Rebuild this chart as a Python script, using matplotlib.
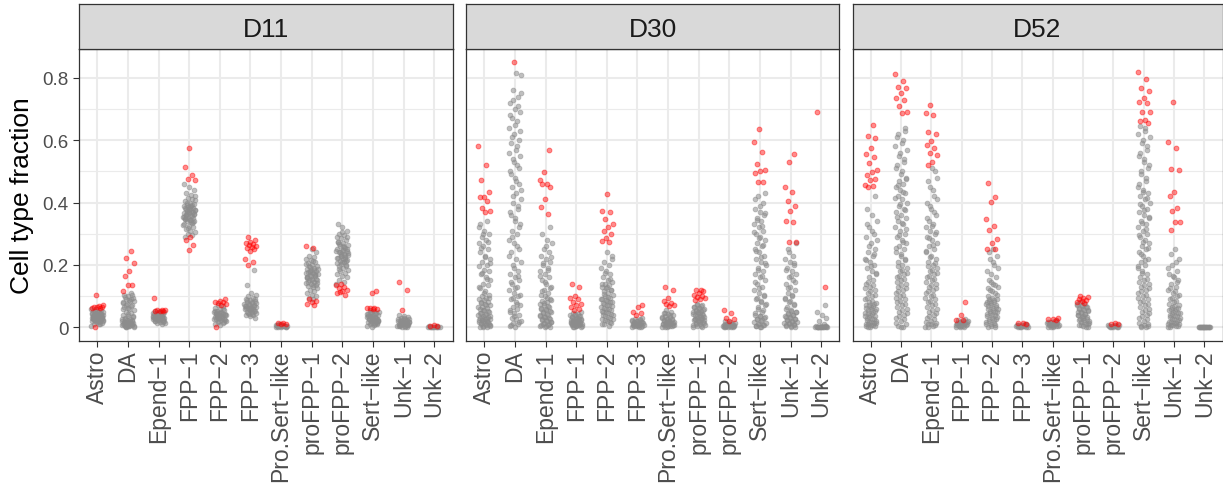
import numpy as np
import matplotlib
matplotlib.use('Agg')
import matplotlib.pyplot as plt

plt.rcParams['font.family'] = ['Liberation Sans', 'DejaVu Sans']

#################### DATA ##############################

categories = ['Astro', 'DA', 'Epend\u22121', 'FPP\u22121', 'FPP\u22122', 'FPP\u22123',
              'Pro.Sert\u2212like', 'proFPP\u22121', 'proFPP\u22122', 'Sert\u2212like',
              'Unk\u22121', 'Unk\u22122']
panels = ['D11', 'D30', 'D52']

# gray points (one list per category)
d11_gray = [
    [0.005,0.01,0.012,0.015,0.017,0.02,0.02,0.022,0.023,0.025,0.025,0.027,0.028,0.03,0.03,0.031,0.032,0.033,0.035,0.035,0.036,0.038,0.04,0.04,0.041,0.042,0.044,0.045,0.046,0.048,0.05,0.052,0.055,0.058,0.06,0.018,0.026,0.034,0.039,0.029,
     0.012,0.019,0.021,0.024,0.031,0.037,0.043,0.047,0.049,0.053,0.027,0.033,0.036,0.041,0.044],
    [0.0,0.002,0.004,0.005,0.006,0.008,0.01,0.01,0.012,0.014,0.015,0.017,0.02,0.022,0.025,0.028,0.03,0.033,0.036,0.04,0.045,0.05,0.055,0.06,0.065,0.07,0.075,0.08,0.085,0.09,0.095,0.1,0.105,0.11,0.003,0.007,0.013,0.018,0.024,0.062,0.078,0.092,
     0.001,0.003,0.005,0.009,0.011,0.016,0.019,0.021,0.027,0.035,0.042,0.058,0.068,0.072,0.083,0.088,0.098,0.102],
    [0.01,0.013,0.015,0.018,0.02,0.022,0.024,0.025,0.027,0.028,0.03,0.031,0.032,0.034,0.035,0.036,0.038,0.04,0.041,0.042,0.044,0.045,0.047,0.048,0.05,0.052,0.016,0.026,0.033,0.039,0.043,
     0.019,0.023,0.029,0.036,0.037,0.046,0.049,0.021,0.031,0.041],
    [0.29,0.295,0.3,0.305,0.31,0.315,0.32,0.325,0.33,0.335,0.34,0.342,0.345,0.348,0.35,0.352,0.355,0.358,0.36,0.362,0.365,0.368,0.37,0.372,0.375,0.378,0.38,0.382,0.385,0.388,0.39,0.393,0.396,0.4,0.405,0.41,0.415,0.42,0.425,0.43,0.44,0.45,0.46,0.357,0.367,0.377,0.387,0.347,0.337,
     0.318,0.328,0.338,0.352,0.362,0.371,0.383,0.391,0.398,0.408,0.343,0.359,0.369,0.379,0.354],
    [0.008,0.012,0.015,0.018,0.02,0.022,0.025,0.027,0.03,0.032,0.034,0.036,0.038,0.04,0.042,0.044,0.046,0.048,0.05,0.053,0.056,0.06,0.063,0.067,0.07,0.024,0.035,0.045,
     0.016,0.021,0.028,0.031,0.037,0.041,0.047,0.052,0.058,0.029,0.039],
    [0.03,0.035,0.038,0.04,0.043,0.045,0.048,0.05,0.052,0.055,0.057,0.06,0.062,0.064,0.066,0.068,0.07,0.072,0.075,0.078,0.08,0.083,0.086,0.09,0.095,0.1,0.105,0.11,0.137,0.185,0.058,0.067,
     0.042,0.047,0.053,0.061,0.063,0.069,0.073,0.077,0.082,0.088,0.092,0.059],
    [0.0,0.001,0.002,0.002,0.003,0.003,0.004,0.004,0.005,0.005,0.006,0.007,0.008,0.01,0.001,0.003,0.006],
    [0.09,0.095,0.1,0.105,0.11,0.115,0.12,0.125,0.13,0.133,0.136,0.14,0.143,0.146,0.15,0.153,0.156,0.16,0.163,0.166,0.17,0.173,0.176,0.18,0.183,0.186,0.19,0.193,0.196,0.2,0.205,0.21,0.215,0.22,0.225,0.23,0.24,0.25,0.158,0.168,0.178,0.188,
     0.135,0.145,0.155,0.165,0.175,0.185,0.195,0.142,0.152,0.162,0.172,0.182,0.202,0.212],
    [0.14,0.145,0.15,0.16,0.165,0.17,0.175,0.18,0.185,0.19,0.195,0.2,0.203,0.206,0.21,0.213,0.216,0.22,0.223,0.226,0.23,0.233,0.236,0.24,0.243,0.246,0.25,0.255,0.26,0.265,0.27,0.275,0.28,0.285,0.29,0.295,0.3,0.31,0.32,0.33,0.218,0.228,0.238,0.248,
     0.188,0.198,0.208,0.222,0.232,0.242,0.252,0.262,0.272,0.212,0.235,0.245,0.258,0.268,0.29,0.305],
    [0.002,0.005,0.008,0.01,0.012,0.014,0.016,0.018,0.02,0.022,0.024,0.026,0.028,0.03,0.032,0.034,0.036,0.038,0.04,0.042,0.045,0.048,0.05,0.053,0.055,0.015,0.025,0.035,
     0.009,0.013,0.019,0.023,0.027,0.031,0.037,0.041,0.044,0.047,0.021,0.029],
    [0.0,0.002,0.004,0.005,0.006,0.008,0.01,0.012,0.013,0.015,0.017,0.018,0.02,0.022,0.024,0.026,0.028,0.03,0.033,0.036,0.04,0.007,0.011,0.016,
     0.001,0.003,0.009,0.014,0.019,0.021,0.023,0.027,0.031,0.005,0.012],
    [0.0,0.0,0.001,0.001,0.001,0.002,0.002,0.002,0.003,0.003,0.0,0.001],
]
d11_red = [
    [0.105,0.07,0.068,0.066,0.065,0.064,0.063,0.062,0.0],
    [0.243,0.222,0.206,0.18,0.163,0.137,0.134,0.116],
    [0.094,0.056,0.055,0.054,0.053,0.052,0.051],
    [0.575,0.515,0.487,0.476,0.471,0.289,0.28,0.265,0.248],
    [0.09,0.085,0.082,0.08,0.078,0.075,0.072,0.0],
    [0.29,0.28,0.275,0.27,0.268,0.265,0.26,0.258,0.255,0.25,0.245,0.22,0.21,0.2],
    [0.015,0.013,0.012,0.01],
    [0.26,0.255,0.09,0.085,0.08,0.075,0.07],
    [0.14,0.134,0.13,0.125,0.12,0.115,0.11,0.105,0.113],
    [0.115,0.11,0.063,0.062,0.062,0.06,0.058],
    [0.145,0.12,0.055],
    [0.006,0.005,0.004],
]

d30_gray = [
    [0.0,0.002,0.004,0.006,0.008,0.01,0.012,0.015,0.018,0.02,0.022,0.025,0.028,0.03,0.033,0.036,0.04,0.043,0.047,0.05,0.054,0.058,0.062,0.066,0.07,0.074,0.078,0.082,0.086,0.09,0.095,0.1,0.105,0.115,0.125,0.135,0.14,0.15,0.16,0.17,0.18,0.185,0.195,0.2,0.21,0.22,0.23,0.24,0.25,0.26,0.27,0.28,0.29,0.3,0.31,0.33,0.34,
     0.001,0.005,0.009,0.014,0.017,0.021,0.024,0.027,0.031,0.035,0.039,0.045,0.052,0.056,0.064,0.072,0.08,0.093,0.11,0.13,0.155,0.175,0.205,0.225,0.255,0.275,0.3,0.32],
    [0.0,0.005,0.01,0.015,0.02,0.025,0.03,0.04,0.045,0.05,0.06,0.065,0.07,0.08,0.09,0.1,0.11,0.12,0.13,0.14,0.15,0.16,0.17,0.18,0.2,0.21,0.22,0.24,0.25,0.27,0.28,0.3,0.31,0.33,0.35,0.36,0.38,0.4,0.41,0.43,0.45,0.46,0.48,0.5,0.52,0.54,0.55,0.57,0.59,0.6,0.62,0.64,0.66,0.67,0.69,0.7,0.72,0.74,0.76,0.81,0.815,
     0.008,0.018,0.035,0.055,0.075,0.095,0.105,0.125,0.145,0.165,0.19,0.23,0.26,0.29,0.32,0.34,0.37,0.39,0.42,0.44,0.47,0.49,0.51,0.53,0.56,0.58,0.61,0.63,0.65,0.68,0.71,0.73,0.75],
    [0.0,0.003,0.006,0.01,0.013,0.016,0.02,0.024,0.028,0.032,0.036,0.04,0.045,0.05,0.055,0.06,0.065,0.07,0.075,0.08,0.085,0.09,0.1,0.105,0.11,0.12,0.13,0.14,0.15,0.16,0.17,0.18,0.19,0.2,0.21,0.22,0.23,0.24,0.25,0.27,0.28,0.3,0.32,
     0.001,0.005,0.008,0.012,0.018,0.022,0.026,0.03,0.034,0.038,0.043,0.048,0.053,0.058,0.063,0.068,0.078,0.088,0.095,0.115,0.125,0.145,0.165,0.185,0.205,0.225,0.26],
    [0.0,0.002,0.004,0.006,0.008,0.01,0.012,0.014,0.016,0.018,0.02,0.022,0.024,0.026,0.028,0.03,0.032,0.035,0.038,0.04,0.043,0.046,0.05,0.005,0.015,0.025,
     0.001,0.003,0.007,0.009,0.011,0.013,0.017,0.019,0.021,0.023,0.027,0.033,0.036,0.042],
    [0.005,0.01,0.015,0.02,0.025,0.03,0.035,0.04,0.045,0.05,0.055,0.06,0.065,0.07,0.075,0.08,0.085,0.09,0.095,0.1,0.105,0.11,0.115,0.12,0.125,0.13,0.135,0.14,0.145,0.15,0.16,0.17,0.18,0.19,0.2,0.21,0.22,0.24,
     0.012,0.018,0.022,0.028,0.032,0.038,0.042,0.048,0.052,0.058,0.062,0.068,0.072,0.078,0.082,0.088,0.092,0.098,0.108,0.118,0.128,0.138,0.155,0.175,0.23],
    [0.0,0.002,0.004,0.005,0.006,0.008,0.01,0.012,0.014,0.015,0.016,0.018,0.02,0.022,0.025,0.028,0.03,0.003,0.009,
     0.001,0.003,0.007,0.011,0.013,0.017,0.019,0.021,0.024],
    [0.0,0.002,0.004,0.006,0.008,0.01,0.012,0.014,0.016,0.018,0.02,0.022,0.025,0.028,0.03,0.033,0.036,0.04,0.043,0.046,0.05,0.055,0.007,0.017,
     0.001,0.003,0.005,0.009,0.011,0.013,0.015,0.019,0.021,0.024,0.027,0.032,0.038,0.045],
    [0.0,0.003,0.006,0.01,0.013,0.016,0.02,0.023,0.026,0.03,0.033,0.036,0.04,0.043,0.046,0.05,0.053,0.056,0.06,0.063,0.066,0.07,0.075,0.008,0.018,0.028,0.038,0.048,
     0.001,0.005,0.011,0.015,0.021,0.025,0.031,0.035,0.041,0.045,0.051,0.055,0.061,0.065,0.068,0.072,0.024,0.034],
    [0.0,0.001,0.002,0.003,0.004,0.005,0.006,0.007,0.008,0.01,0.012,0.014,0.016,0.02,0.003,0.006,
     0.001,0.002,0.004,0.005,0.007,0.009,0.011,0.013],
    [0.0,0.003,0.006,0.01,0.015,0.02,0.025,0.03,0.035,0.04,0.05,0.06,0.07,0.08,0.09,0.1,0.11,0.12,0.13,0.14,0.15,0.16,0.17,0.18,0.19,0.2,0.21,0.22,0.23,0.24,0.25,0.26,0.27,0.28,0.29,0.3,0.31,0.32,0.33,0.34,0.35,0.36,0.37,0.38,0.4,0.42,0.43,
     0.001,0.004,0.008,0.012,0.017,0.022,0.027,0.032,0.037,0.045,0.055,0.065,0.075,0.085,0.095,0.105,0.125,0.145,0.165,0.185,0.205,0.225,0.245,0.265,0.285,0.305,0.325,0.345,0.365,0.39,0.41],
    [0.0,0.003,0.006,0.01,0.013,0.016,0.02,0.024,0.028,0.032,0.036,0.04,0.045,0.05,0.055,0.06,0.07,0.08,0.09,0.1,0.11,0.12,0.13,0.14,0.15,0.16,0.17,0.18,0.19,0.2,0.21,0.22,0.23,0.25,0.27,
     0.001,0.005,0.008,0.012,0.015,0.018,0.022,0.026,0.03,0.034,0.038,0.043,0.048,0.053,0.065,0.075,0.085,0.095,0.105,0.125,0.145,0.165,0.185,0.205,0.24],
    [0.0,0.0,0.0,0.0,0.001,0.001,0.001,0.002,0.002,0.003,0.004,0.005,0.01,0.02,0.03,0.04,0.05,0.07,
     0.0,0.0,0.001,0.002,0.003],
]
d30_red = [
    [0.581,0.519,0.473,0.433,0.419,0.417,0.406,0.383,0.374,0.369],
    [0.85],
    [0.567,0.497,0.473,0.46,0.458,0.451,0.412,0.385,0.364],
    [0.14,0.13,0.1,0.095,0.09,0.08,0.075,0.07,0.065,0.06,0.055],
    [0.428,0.374,0.37,0.348,0.33,0.321,0.31,0.3,0.285,0.278,0.273],
    [0.07,0.065,0.05,0.045,0.04],
    [0.13,0.12,0.095,0.085,0.078,0.075,0.07,0.068],
    [0.12,0.118,0.115,0.11,0.105,0.1,0.098,0.095,0.09,0.088],
    [0.055,0.045,0.03,0.025,0.02],
    [0.636,0.594,0.561,0.524,0.503,0.5,0.495,0.467,0.465],
    [0.556,0.529,0.451,0.435,0.406,0.39,0.372,0.342,0.337,0.273,0.272],
    [0.692,0.128],
]

d52_gray = [
    [0.0,0.003,0.006,0.01,0.013,0.016,0.02,0.025,0.03,0.035,0.04,0.045,0.05,0.055,0.06,0.065,0.07,0.075,0.08,0.09,0.1,0.11,0.12,0.13,0.14,0.15,0.16,0.17,0.18,0.19,0.2,0.21,0.22,0.23,0.24,0.25,0.27,0.29,0.3,0.32,0.34,0.36,0.38,0.42,
     0.001,0.005,0.008,0.012,0.015,0.018,0.022,0.027,0.032,0.037,0.042,0.047,0.052,0.057,0.062,0.067,0.072,0.078,0.085,0.095,0.105,0.115,0.125,0.135,0.145,0.175,0.195,0.215,0.235,0.26,0.28,0.31,0.33],
    [0.0,0.005,0.01,0.02,0.03,0.04,0.05,0.06,0.07,0.08,0.09,0.1,0.11,0.12,0.13,0.14,0.15,0.16,0.17,0.18,0.19,0.2,0.21,0.22,0.23,0.24,0.25,0.26,0.27,0.28,0.29,0.3,0.31,0.32,0.33,0.34,0.35,0.36,0.37,0.38,0.39,0.4,0.41,0.42,0.43,0.44,0.45,0.46,0.47,0.48,0.5,0.52,0.54,0.56,0.58,0.6,0.62,0.64,
     0.002,0.015,0.025,0.035,0.045,0.055,0.065,0.075,0.085,0.095,0.105,0.115,0.125,0.135,0.145,0.155,0.165,0.175,0.185,0.195,0.215,0.235,0.255,0.275,0.295,0.315,0.335,0.355,0.375,0.395,0.415,0.435,0.455,0.475,0.49,0.51,0.53,0.55,0.57,0.59,0.61,0.63],
    [0.0,0.005,0.01,0.015,0.02,0.03,0.04,0.05,0.06,0.07,0.08,0.09,0.1,0.11,0.12,0.13,0.14,0.15,0.16,0.17,0.18,0.19,0.2,0.21,0.22,0.23,0.24,0.25,0.26,0.27,0.28,0.29,0.3,0.31,0.32,0.33,0.34,0.36,0.38,0.4,0.42,0.45,0.48,0.51,
     0.002,0.008,0.012,0.018,0.025,0.035,0.045,0.055,0.065,0.075,0.085,0.095,0.105,0.115,0.125,0.135,0.145,0.155,0.165,0.175,0.185,0.195,0.205,0.225,0.245,0.265,0.285,0.305,0.325,0.35,0.37,0.39,0.41,0.44,0.47,0.5],
    [0.0,0.002,0.004,0.006,0.008,0.01,0.012,0.014,0.016,0.018,0.02,0.022,0.025,0.003,0.007,
     0.001,0.005,0.009,0.011,0.013,0.015,0.017,0.019],
    [0.0,0.005,0.01,0.015,0.02,0.025,0.03,0.035,0.04,0.045,0.05,0.055,0.06,0.065,0.07,0.075,0.08,0.085,0.09,0.095,0.1,0.11,0.12,0.13,0.14,0.15,0.16,0.17,0.18,0.2,0.22,0.23,0.25,
     0.002,0.008,0.012,0.018,0.022,0.028,0.032,0.038,0.042,0.048,0.052,0.058,0.062,0.068,0.072,0.078,0.082,0.088,0.092,0.105,0.115,0.125,0.135,0.145,0.19,0.21,0.24],
    [0.0,0.001,0.002,0.003,0.004,0.005,0.006,0.007,0.008,0.01,
     0.0,0.002,0.004,0.006,0.009],
    [0.0,0.002,0.004,0.006,0.008,0.01,0.012,0.014,0.016,0.018,0.02,
     0.001,0.003,0.005,0.007,0.009,0.011,0.013,0.015,0.017,0.019],
    [0.0,0.004,0.008,0.012,0.016,0.02,0.024,0.028,0.032,0.036,0.04,0.044,0.048,0.052,0.056,0.06,0.064,0.068,0.072,0.076,0.08,0.01,0.03,0.05,
     0.002,0.006,0.014,0.018,0.022,0.026,0.034,0.038,0.042,0.046,0.054,0.058,0.062,0.066,0.07,0.074],
    [0.0,0.001,0.002,0.003,0.004,0.005,0.006,0.008,
     0.0,0.002,0.004,0.007],
    [0.0,0.005,0.01,0.02,0.03,0.04,0.05,0.06,0.07,0.08,0.09,0.1,0.11,0.12,0.13,0.14,0.15,0.16,0.17,0.18,0.19,0.2,0.21,0.22,0.23,0.24,0.25,0.26,0.27,0.28,0.29,0.3,0.31,0.32,0.33,0.34,0.35,0.36,0.37,0.38,0.39,0.4,0.41,0.42,0.43,0.44,0.46,0.48,0.5,0.52,0.54,0.56,0.58,0.6,0.62,0.64,
     0.001,0.003,0.008,0.015,0.025,0.035,0.045,0.055,0.065,0.075,0.085,0.095,0.105,0.115,0.125,0.135,0.145,0.155,0.175,0.195,0.215,0.235,0.255,0.275,0.295,0.315,0.335,0.355,0.375,0.395,0.415,0.435,0.45,0.47,0.49,0.51,0.53,0.55,0.57,0.59,0.61,0.63,0.645],
    [0.0,0.003,0.006,0.01,0.013,0.016,0.02,0.025,0.03,0.035,0.04,0.045,0.05,0.055,0.06,0.065,0.07,0.08,0.09,0.1,0.11,0.12,0.13,0.14,0.15,0.16,0.17,0.18,0.2,0.22,0.25,
     0.001,0.004,0.008,0.012,0.015,0.018,0.022,0.027,0.032,0.037,0.042,0.047,0.052,0.058,0.063,0.068,0.075,0.085,0.095,0.105,0.115,0.125,0.145,0.165,0.19,0.21,0.235],
    [0.0,0.0,0.0,0.0,0.0,0.0,0.0,0.0,0.0,0.0,0.001,0.001,
     0.0,0.0,0.0,0.0,0.0,0.0],
]
d52_red = [
    [0.649,0.612,0.606,0.574,0.556,0.545,0.526,0.505,0.497,0.487,0.476,0.471,0.455,0.452,0.449],
    [0.813,0.791,0.772,0.768,0.751,0.735,0.73,0.711,0.69,0.687],
    [0.713,0.687,0.681,0.626,0.62,0.599,0.583,0.575,0.558,0.551,0.529,0.522],
    [0.08,0.04,0.024,0.022],
    [0.462,0.419,0.401,0.348,0.324,0.312,0.283,0.27,0.251,0.25],
    [0.015,0.013,0.012],
    [0.03,0.027,0.025,0.022],
    [0.1,0.098,0.095,0.09,0.088,0.085,0.08,0.078],
    [0.015,0.012,0.011],
    [0.82,0.795,0.767,0.759,0.736,0.724,0.72,0.692,0.69,0.666,0.66,0.656],
    [0.722,0.594,0.574,0.506,0.503,0.433,0.422,0.383,0.374,0.339,0.336,0.313],
    [],
]

gray_sets = [d11_gray, d30_gray, d52_gray]
red_sets = [d11_red, d30_red, d52_red]

#################### PLOT ##############################

W, H = 1223, 489
fig = plt.figure(figsize=(W / 100, H / 100), dpi=100)

lefts = [79, 466, 852.5]
widths = [373.5, 373.5, 370]
ax_top, ax_bot = 50, 341.5
strip_top = 5

def jitter(n, seed):
    # deterministic spread within +-0.2 of the category
    return ((np.arange(n) * 0.6180339887 + seed * 0.377) % 1.0 - 0.5) * 0.4

x_pos = np.arange(1, len(categories) + 1)

for p, name in enumerate(panels):
    ax = fig.add_axes([lefts[p] / W, (H - ax_bot) / H, widths[p] / W, (ax_bot - ax_top) / H])
    st = fig.add_axes([lefts[p] / W, (H - ax_top) / H, widths[p] / W, (ax_top - strip_top) / H])

    for i in range(len(categories)):
        g = np.array(gray_sets[p][i])
        r = np.array(red_sets[p][i])
        if len(g):
            ax.scatter(x_pos[i] + jitter(len(g), i + 3 * p), g, s=12, color='#8c8c8c',
                       alpha=0.55, linewidths=0.6, zorder=3)
        if len(r):
            ax.scatter(x_pos[i] + jitter(len(r), i + 7 * p + 1), r, s=12, color='red',
                       alpha=0.45, linewidths=0.7, zorder=4)

    ax.set_xlim(0.4, 12.6)
    ax.set_ylim(-0.0425, 0.8925)
    ax.set_xticks(x_pos)
    ax.set_xticklabels(categories, rotation=90, ha='center', va='top')
    ax.set_yticks([0, 0.2, 0.4, 0.6, 0.8])
    ax.set_yticks([0.1, 0.3, 0.5, 0.7], minor=True)
    ax.grid(True, which='major', color='#ebebeb', linewidth=1.5, zorder=0)
    ax.grid(True, which='minor', axis='y', color='#ebebeb', linewidth=0.8, zorder=0)
    ax.set_axisbelow(True)
    ax.tick_params(axis='both', which='major', length=4, width=0.8, color='#333333',
                   labelcolor='#4d4d4d', pad=2.5)
    ax.tick_params(axis='x', which='major', labelsize=16.5)
    ax.tick_params(axis='y', which='major', labelsize=13.5, pad=3.5)
    ax.tick_params(axis='y', which='minor', length=0)
    if p == 0:
        ax.set_yticklabels(['0', '0.2', '0.4', '0.6', '0.8'])
    else:
        ax.tick_params(axis='y', which='major', labelleft=False, length=0)
    for s in ax.spines.values():
        s.set_color('#333333')
        s.set_linewidth(0.9)

    st.set_facecolor('#d9d9d9')
    st.set_xticks([])
    st.set_yticks([])
    for s in st.spines.values():
        s.set_color('#333333')
        s.set_linewidth(0.9)
    st.text(0.5, 0.45, name, ha='center', va='center', fontsize=19, color='#1a1a1a',
            transform=st.transAxes)

fig.text(22 / W, 1 - ((ax_top + ax_bot) / 2) / H, 'Cell type fraction', rotation=90,
         ha='center', va='center', fontsize=19, color='black')

plt.savefig('out.png', dpi=100)
